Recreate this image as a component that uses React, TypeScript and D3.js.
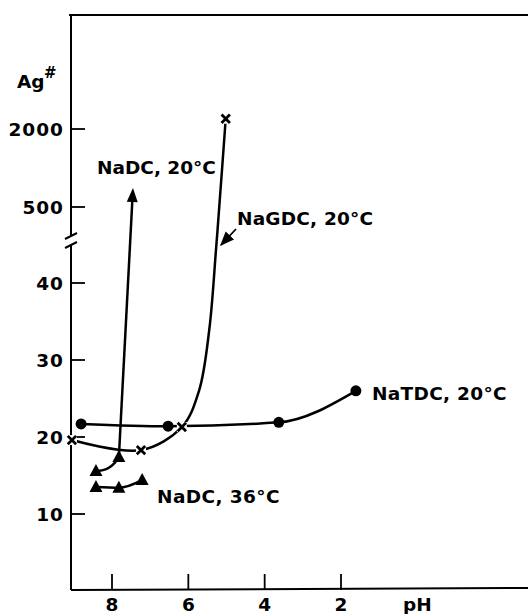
import React from "react";
import * as d3 from "d3";

// ---- data ----
const xTicks = [8, 6, 4, 2];
const yTicksLow = [10, 20, 30, 40];
const yTicksHigh = [500, 2000];

// NaTDC, 20°C (filled circles)
const tdcPH = [8.81, 6.53, 3.63, 1.61];
const tdcAg = [21.7, 21.4, 21.9, 26.0];

// NaGDC, 20°C (x markers) measured points
const gdcPH = [9.05, 7.24, 6.17, 5.02];
const gdcAg = [19.6, 18.3, 21.3, 2400];
// NaGDC curve trace
const gdcCurvePH = [9.05, 7.24, 6.17, 5.72, 5.45, 5.28, 5.19, 5.02];
const gdcCurveAg = [19.6, 18.3, 21.3, 26, 34, 44, 500, 2400];

// NaDC, 20°C (triangles) + arrow to off-scale value
const dc20PH = [8.42, 7.82];
const dc20Ag = [15.6, 17.4];
const dc20ArrowPH = 7.45;
const dc20ArrowAg = 700;

// NaDC, 36°C (triangles)
const dc36PH = [8.42, 7.82, 7.21];
const dc36Ag = [13.5, 13.4, 14.4];

const W = 528;
const H = 614;
const FONT = "'DejaVu Sans', sans-serif";

export default function App() {
  const x = d3.scaleLinear().domain([8, 2]).range([112, 341]);
  const yLow = d3.scaleLinear().domain([10, 40]).range([514, 283]);
  const yHigh = d3.scaleLog().domain([500, 2000]).range([207, 129]);
  const y = (v: number) => (v <= 100 ? yLow(v) : yHigh(v));

  const axisX = 71;
  const axisY = 590;
  const top = 15;

  const pts = (ph: number[], ag: number[]) =>
    ph.map((p, i) => [x(p), y(ag[i])] as [number, number]).sort((a, b) => a[0] - b[0]);

  const lineMono = d3.line().curve(d3.curveMonotoneX);
  const lineCR = d3.line().curve(d3.curveCatmullRom.alpha(0.5));

  const tdc = pts(tdcPH, tdcAg);
  const gdcCurve = gdcCurvePH.map((p, i) => [x(p), y(gdcCurveAg[i])] as [number, number]);
  const dc20 = pts(dc20PH, dc20Ag);
  const dc36 = pts(dc36PH, dc36Ag);

  // curved segment between the two NaDC 20 points
  const [a, b] = dc20;
  const cx = a[0] + 0.65 * (b[0] - a[0]);
  const dc20Path = `M${a[0]},${a[1]} Q${cx},${a[1]} ${b[0]},${b[1]}`;
  const tip: [number, number] = [x(dc20ArrowPH), y(dc20ArrowAg)];

  const tri = (px: number, py: number) =>
    `M${px},${py - 7} L${px + 6.5},${py + 5} L${px - 6.5},${py + 5} Z`;
  const cross = (px: number, py: number, s = 4.2) =>
    `M${px - s},${py - s} L${px + s},${py + s} M${px + s},${py - s} L${px - s},${py + s}`;

  // arrowhead for the NaDC 20 arrow
  const ang = Math.atan2(tip[1] - b[1], tip[0] - b[0]);
  const headLen = 14;
  const headW = 5.5;
  const bx = tip[0] - headLen * Math.cos(ang);
  const by = tip[1] - headLen * Math.sin(ang);
  const px = -Math.sin(ang);
  const py = Math.cos(ang);
  const head = `M${tip[0]},${tip[1]} L${bx + headW * px},${by + headW * py} L${bx - headW * px},${by - headW * py} Z`;

  const textStyle = {
    fontFamily: FONT,
    fontWeight: 700,
    fontSize: 18.5,
    fill: "#000",
  } as React.CSSProperties;

  const breakTop = 236;
  const breakBot = 245;

  return (
    <svg
      width={W}
      height={H}
      style={{ position: "absolute", left: 0, top: 0, background: "#fff" }}
    >
      <defs>
        <marker id="smallArrow" viewBox="0 0 10 10" refX="9" refY="5" markerWidth="8" markerHeight="8" orient="auto">
          <path d="M0,1 L10,5 L0,9 Z" fill="#000" />
        </marker>
      </defs>
      {/* frame */}
      <line x1={axisX - 2} y1={top} x2={W} y2={top} stroke="#000" strokeWidth={2} />
      <line x1={axisX} y1={top} x2={axisX} y2={breakTop} stroke="#000" strokeWidth={2} />
      <line x1={axisX} y1={breakBot} x2={axisX} y2={axisY} stroke="#000" strokeWidth={2} />
      <line x1={axisX - 6} y1={breakTop + 3} x2={axisX + 6} y2={breakTop - 3} stroke="#000" strokeWidth={2} />
      <line x1={axisX - 6} y1={breakBot + 3} x2={axisX + 6} y2={breakBot - 3} stroke="#000" strokeWidth={2} />
      <line x1={axisX} y1={axisY} x2={W} y2={axisY - 2} stroke="#000" strokeWidth={2} />

      {/* y ticks */}
      {[...yTicksLow.map((t) => ({ t, yy: yLow(t) })), ...yTicksHigh.map((t) => ({ t, yy: yHigh(t) }))].map(
        ({ t, yy }) => (
          <g key={t}>
            <line x1={axisX} y1={yy} x2={axisX + 14} y2={yy} stroke="#000" strokeWidth={1.8} />
            <text x={axisX - 7} y={yy + 6.5} textAnchor="end" style={{ ...textStyle, letterSpacing: 1 }}>
              {t}
            </text>
          </g>
        )
      )}
      {/* x ticks */}
      {xTicks.map((t) => (
        <g key={t}>
          <line x1={x(t)} y1={axisY} x2={x(t)} y2={axisY - 16} stroke="#000" strokeWidth={1.8} />
          <text x={x(t)} y={611} textAnchor="middle" style={textStyle}>
            {t}
          </text>
        </g>
      ))}
      <text x={x(0)} y={611} textAnchor="middle" style={textStyle}>
        pH
      </text>
      <text x={17} y={88} style={textStyle}>
        Ag
      </text>
      <text x={44} y={78} style={{ ...textStyle, fontSize: 15 }}>
        #
      </text>

      {/* NaTDC */}
      <path d={lineMono(tdc) || ""} fill="none" stroke="#000" strokeWidth={2.5} />
      {tdcPH.map((p, i) => (
        <circle key={i} cx={x(p)} cy={y(tdcAg[i])} r={5.5} fill="#000" />
      ))}

      {/* NaGDC */}
      <path d={lineCR(gdcCurve) || ""} fill="none" stroke="#000" strokeWidth={2.5} />
      {gdcPH.map((p, i) => (
        <g key={i}>
          <rect x={x(p) - 5} y={y(gdcAg[i]) - 5} width={10} height={10} fill="#fff" />
          <path d={cross(x(p), y(gdcAg[i]))} stroke="#000" strokeWidth={2.8} />
        </g>
      ))}

      {/* NaDC 20 */}
      <path d={dc20Path} fill="none" stroke="#000" strokeWidth={2.5} />
      <line x1={b[0]} y1={b[1]} x2={bx} y2={by} stroke="#000" strokeWidth={2.5} />
      <path d={head} fill="#000" />
      {dc20.map(([px2, py2], i) => (
        <path key={i} d={tri(px2, py2)} fill="#000" />
      ))}

      {/* NaDC 36 */}
      <path d={lineMono(dc36) || ""} fill="none" stroke="#000" strokeWidth={2.5} />
      {dc36.map(([px2, py2], i) => (
        <path key={i} d={tri(px2, py2)} fill="#000" />
      ))}

      {/* labels */}
      <text x={97} y={174} style={{ ...textStyle, letterSpacing: 0 }}>
        NaDC, 20°C
      </text>
      <text x={237} y={225} style={{ ...textStyle, letterSpacing: 0.2 }}>
        NaGDC, 20°C
      </text>
      <line x1={236} y1={229} x2={221} y2={245} stroke="#000" strokeWidth={1.8} markerEnd="url(#smallArrow)" />
      <text x={372} y={400} style={{ ...textStyle, letterSpacing: 0.3 }}>
        NaTDC, 20°C
      </text>
      <text x={157} y={503} style={{ ...textStyle, letterSpacing: 0.4 }}>
        NaDC, 36°C
      </text>
    </svg>
  );
}
